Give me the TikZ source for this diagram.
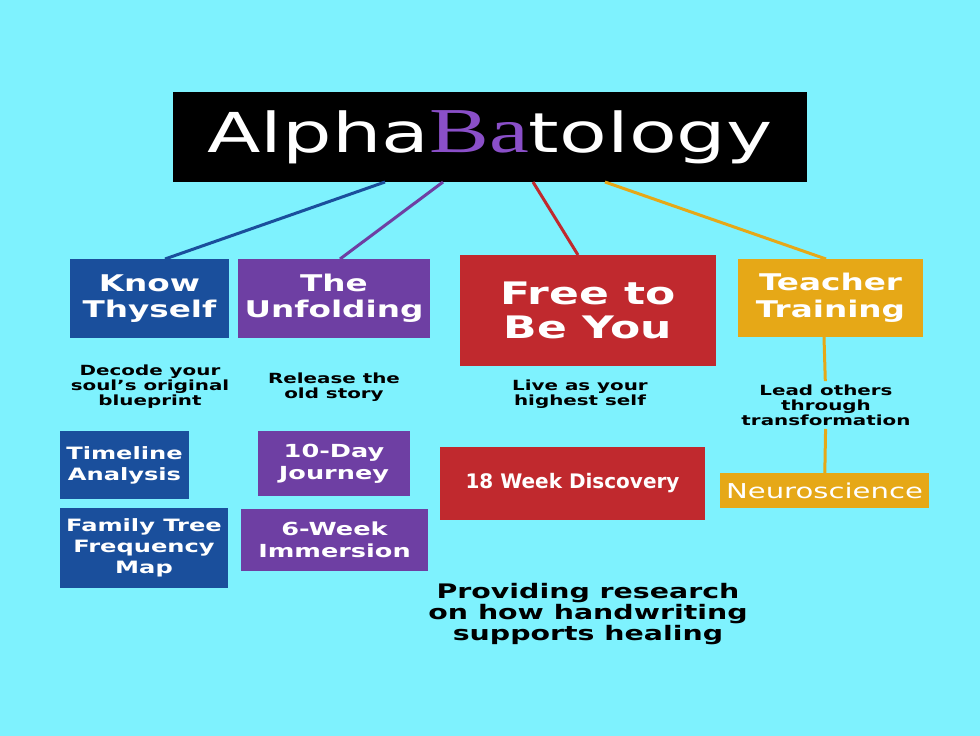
\documentclass[tikz,border=0pt]{standalone}
\usepackage{fontspec}
\setmainfont{DejaVu Sans}[FakeStretch=1.42]
\newfontfamily\plainf{DejaVu Sans}
\newfontfamily\serf{Liberation Serif}[FakeStretch=1.4]
\definecolor{bg}{HTML}{7EF2FE}
\definecolor{kb}{HTML}{1A4F9C}
\definecolor{kp}{HTML}{6E3FA3}
\definecolor{kr}{HTML}{C0292E}
\definecolor{ko}{HTML}{E6A817}
\definecolor{tp}{HTML}{8A4FC8}
\begin{document}
\begin{tikzpicture}[x=1pt,y=-1pt,
  box/.style={inner sep=0pt,text=white,align=center,font=\bfseries\fontsize{17}{21}\selectfont},
  sub/.style={align=center,font=\bfseries\fontsize{14}{15}\selectfont},
  conn/.style={line width=3pt}]
\fill[bg] (0,0) rectangle (980,736);
\useasboundingbox (0,0) rectangle (980,736);
\node[fill=black,minimum width=634pt,minimum height=90pt,inner sep=0pt,text=white,font=\fontsize{55}{58}\selectfont] (title) at (490,137) {Alpha\textcolor{tp}{\serf\fontsize{64}{64}\selectfont Ba}tology};
\node[box,fill=kb,minimum width=159pt,minimum height=79pt,font=\bfseries\fontsize{23}{26}\selectfont] (k) at (149.5,298.5) {Know\\Thyself};
\node[box,fill=kp,minimum width=192pt,minimum height=79pt,font=\bfseries\fontsize{23}{26}\selectfont] (u) at (334,298.5) {The\\Unfolding};
\node[box,fill=kr,minimum width=256pt,minimum height=111pt,font=\bfseries\fontsize{31}{34}\selectfont] (f) at (588,310.5) {Free to\\Be You};
\node[box,fill=ko,minimum width=185pt,minimum height=78pt,font=\bfseries\fontsize{23}{27}\selectfont] (t) at (830.5,298) {Teacher\\Training};
\coordinate (t1) at (385,182); \coordinate (t2) at (443,182);
\coordinate (t3) at (533,182); \coordinate (t4) at (605,182);
\draw[conn,kb] (t1) -- (165,259);
\draw[conn,kp] (t2) -- (340,259);
\draw[conn,kr] (t3) -- (578,255);
\draw[conn,ko] (t4) -- (826,259);
\node[sub] (ks) at (150,387) {Decode your\\soul’s original\\blueprint};
\node[sub] (us) at (334,387) {Release the\\old story};
\node[sub] (fs) at (580,394) {Live as your\\highest self};
\node[sub] (ts) at (826,405) {Lead others\\through\\transformation};
\node[box,fill=kb,minimum width=129pt,minimum height=68pt] (k1) at (124.5,465) {Timeline\\Analysis};
\node[box,fill=kb,minimum width=168pt,minimum height=80pt] (k2) at (144,548) {Family Tree\\Frequency\\Map};
\node[box,fill=kp,minimum width=152pt,minimum height=65pt,font=\bfseries\fontsize{18}{22}\selectfont] (u1) at (334,463.5) {10-Day\\Journey};
\node[box,fill=kp,minimum width=187pt,minimum height=62pt,font=\bfseries\fontsize{18}{22}\selectfont] (u2) at (334.5,540) {6-Week\\Immersion};
\node[box,fill=kr,minimum width=265pt,minimum height=73pt,font=\plainf\bfseries\fontsize{20}{22}\selectfont] (f1) at (572.5,483.5) {18 Week Discovery};
\node[box,fill=ko,minimum width=209pt,minimum height=35pt,font=\fontsize{20.5}{22}\selectfont] (t1n) at (824.5,490.5) {Neuroscience};
\draw[conn,ko] (824,337) -- (ts);
\draw[conn,ko] (ts) -- (t1n);
\node[align=center,font=\bfseries\fontsize{20}{21}\selectfont] (p) at (588,614) {Providing research\\on how handwriting\\supports healing};
\end{tikzpicture}
\end{document}
